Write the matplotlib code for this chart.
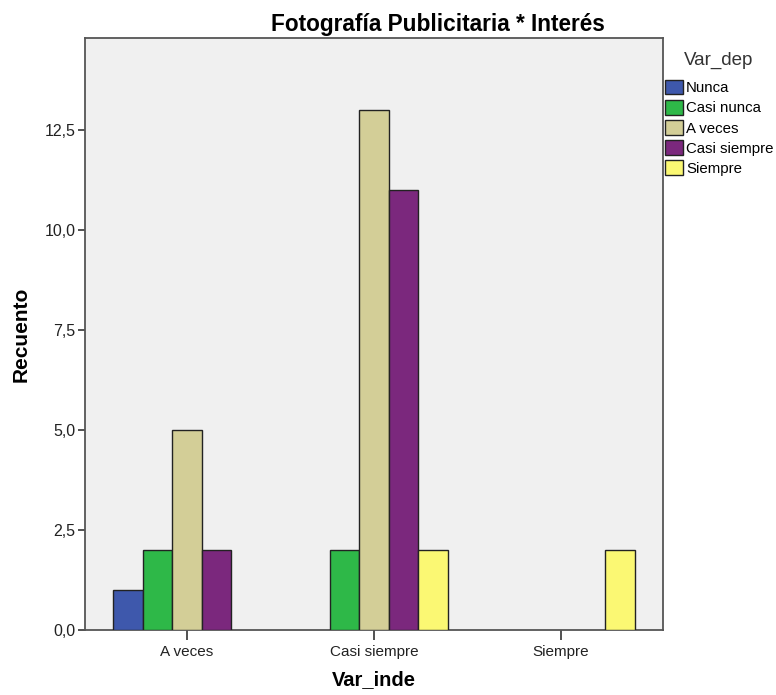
import numpy as np
import matplotlib
matplotlib.use("Agg")
import matplotlib.pyplot as plt
from matplotlib.ticker import FuncFormatter

plt.rcParams.update({
    "font.family": ["Liberation Sans", "DejaVu Sans"],
    "font.size": 11,
})

groups = ["A veces", "Casi siempre", "Siempre"]
series = ["Nunca", "Casi nunca", "A veces", "Casi siempre", "Siempre"]
nunca = [1, 0, 0]
casi_nunca = [2, 2, 0]
a_veces = [5, 13, 0]
casi_siempre = [2, 11, 0]
siempre = [0, 2, 2]
colors = ["#3e58ac", "#2eb848", "#d3ce97", "#7b287d", "#fbf873"]

counts = [nunca, casi_nunca, a_veces, casi_siempre, siempre]

fig = plt.figure(figsize=(7.76, 6.95), dpi=100)
ax = fig.add_axes([85 / 776, 65 / 695, 578 / 776, 592 / 695])
ax.set_facecolor("#f0f0f0")

x = np.arange(len(groups))
width = 0.158
handles = []
for i, (name, vals, c) in enumerate(zip(series, counts, colors)):
    pos = x + (i - 2) * width
    vals = np.array(vals, dtype=float)
    keep = vals > 0
    ax.bar(pos[keep], vals[keep], width, color=c, edgecolor="#222222",
           linewidth=1.0, zorder=3)
    handles.append(plt.Rectangle((0, 0), 1, 1, facecolor=c,
                                 edgecolor="#222222", linewidth=1.0))

ax.set_xlim(-0.545, 2.545)
ax.set_ylim(0, 14.8)
ax.set_xticks(x)
ax.set_xticklabels(groups)
ax.set_yticks([0, 2.5, 5, 7.5, 10, 12.5])
ax.yaxis.set_major_formatter(FuncFormatter(lambda v, p: f"{v:.1f}".replace(".", ",")))
ax.tick_params(axis="y", length=5, width=1.2, color="#333333", pad=2,
               labelsize=11.5, labelcolor="#222222")
ax.tick_params(axis="x", length=7, width=1.2, color="#333333", pad=4,
               labelsize=11, labelcolor="#222222")
for side, sp in ax.spines.items():
    sp.set_color("#555555")
    sp.set_linewidth(1.3)

ax.set_ylabel("Recuento", fontsize=15, fontweight="bold", labelpad=10)
ax.set_xlabel("Var_inde", fontsize=14.5, fontweight="bold", labelpad=8)

fig.text(438 / 776, 1 - 25 / 695, "Fotografía Publicitaria * Interés",
         ha="center", va="center", fontsize=16.3, fontweight="bold")

# legend title drawn separately so the gap above the entries can be set
fig.text(719 / 776, 1 - 60 / 695, "Var_dep", ha="center", va="center",
         fontsize=13.5, color="#333333")
leg = fig.legend(handles, series, loc="upper left",
                 bbox_to_anchor=(665 / 776, 1 - 80 / 695), frameon=False,
                 fontsize=10.8,
                 handlelength=1.2, handleheight=1.1, handletextpad=0.2,
                 labelspacing=0.32, borderaxespad=0, borderpad=0)

fig.savefig("out.png", dpi=100)
